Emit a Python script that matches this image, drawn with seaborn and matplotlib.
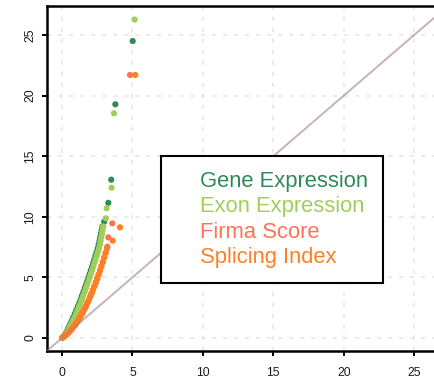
import matplotlib
matplotlib.use("Agg")
import matplotlib.pyplot as plt
from matplotlib.lines import Line2D
import numpy as np
import pandas as pd
import seaborn as sns

# Observed vs expected -log10(p) for four kinds of test
series_names = ["Gene Expression", "Exon Expression", "Firma Score", "Splicing Index"]
series_colors = ["#2E8B57", "#A2CD5A", "#FF7256", "#FF7F24"]

gene_x = [0.04, 0.12, 0.22, 0.30, 0.37, 0.45, 0.53, 0.61, 0.71, 0.80, 0.91, 1.02,
          1.12, 1.23, 1.33, 1.42, 1.52, 1.61, 1.70, 1.79, 1.88, 1.97, 2.05, 2.14,
          2.22, 2.30, 2.38, 2.46, 2.54, 2.60, 2.66, 2.71, 2.76, 2.81, 2.87, 3.00,
          3.29, 3.50, 3.79, 5.02]
gene_y = [0.05, 0.15, 0.30, 0.45, 0.60, 0.80, 1.00, 1.20, 1.45, 1.70, 2.00, 2.30,
          2.60, 2.90, 3.20, 3.50, 3.80, 4.10, 4.40, 4.70, 5.00, 5.30, 5.60, 5.90,
          6.20, 6.50, 6.80, 7.10, 7.40, 7.70, 8.00, 8.30, 8.60, 8.90, 9.20, 9.60,
          11.15, 13.06, 19.28, 24.50]

exon_x = [0.05, 0.14, 0.25, 0.34, 0.42, 0.51, 0.60, 0.69, 0.79, 0.89, 1.00, 1.11,
          1.21, 1.32, 1.42, 1.51, 1.61, 1.70, 1.79, 1.88, 1.97, 2.06, 2.14, 2.23,
          2.31, 2.39, 2.47, 2.55, 2.63, 2.69, 2.74, 2.79, 2.84, 2.88, 2.93, 3.12,
          3.17, 3.52, 3.69, 5.16]
exon_y = [0.05, 0.15, 0.30, 0.45, 0.60, 0.80, 1.00, 1.20, 1.45, 1.70, 2.00, 2.30,
          2.60, 2.90, 3.20, 3.50, 3.80, 4.10, 4.40, 4.70, 5.00, 5.30, 5.60, 5.90,
          6.20, 6.50, 6.80, 7.10, 7.40, 7.70, 8.00, 8.30, 8.60, 8.90, 9.20, 9.87,
          10.70, 12.40, 18.54, 26.27]

firma_x = [0.02, 0.10, 0.20, 0.30, 0.40, 0.50, 0.60, 0.70, 0.80, 0.90, 1.00, 1.10,
           1.20, 1.30, 1.40, 1.50, 1.60, 1.70, 1.80, 1.90, 2.00, 2.10, 2.20, 2.30,
           2.40, 2.50, 2.60, 2.70, 2.80, 2.90, 3.00, 3.10, 3.22, 3.29, 3.57, 4.83]
firma_y = [0.02, 0.08, 0.17, 0.27, 0.38, 0.50, 0.62, 0.76, 0.90, 1.05, 1.20, 1.37,
           1.55, 1.75, 1.95, 2.17, 2.40, 2.63, 2.88, 3.13, 3.40, 3.68, 3.97, 4.27,
           4.58, 4.90, 5.23, 5.57, 5.92, 6.28, 6.65, 7.03, 7.53, 8.30, 9.46, 21.70]

splice_x = [0.02, 0.10, 0.20, 0.30, 0.40, 0.50, 0.60, 0.70, 0.80, 0.90, 1.00, 1.10,
            1.20, 1.30, 1.40, 1.50, 1.60, 1.70, 1.80, 1.90, 2.00, 2.10, 2.20, 2.30,
            2.40, 2.50, 2.60, 2.70, 2.80, 2.90, 3.00, 3.10, 3.20, 3.60, 4.12, 5.20]
splice_y = [0.02, 0.08, 0.17, 0.27, 0.38, 0.50, 0.62, 0.76, 0.90, 1.05, 1.20, 1.37,
            1.55, 1.75, 1.95, 2.17, 2.40, 2.63, 2.88, 3.13, 3.40, 3.68, 3.97, 4.27,
            4.58, 4.90, 5.23, 5.57, 5.92, 6.28, 6.65, 7.03, 7.40, 8.03, 9.13, 21.70]

axis_ticks = [0, 5, 10, 15, 20, 25]

frames = []
for name, xs, ys in zip(series_names,
                        [gene_x, exon_x, firma_x, splice_x],
                        [gene_y, exon_y, firma_y, splice_y]):
    frames.append(pd.DataFrame({"expected": xs, "observed": ys, "test": name}))
df = pd.concat(frames, ignore_index=True)

sns.set_style("white")
plt.rcParams["font.family"] = ["Liberation Sans", "DejaVu Sans"]

W, H = 435, 383
fig = plt.figure(figsize=(W / 100, H / 100), dpi=100)
ax = fig.add_axes([47.3 / W, 32.3 / H, (440 - 47.3) / W, (350.7 - 6) / H])

sns.scatterplot(data=df, x="expected", y="observed", hue="test",
                hue_order=series_names, palette=series_colors,
                s=20, linewidth=0, legend=False, ax=ax, zorder=3)

# reference line y = x
ax.axline((0, 0), slope=1, color="#A08080", alpha=0.6, lw=1.4, zorder=4)

ax.set_xlim(-1.04, 26.83)
ax.set_ylim(-1.048, 27.39)
ax.set_xticks(axis_ticks)
ax.set_yticks(axis_ticks)
ax.set_xlabel("")
ax.set_ylabel("")

ax.grid(True, color="#E6E6E6", lw=1.1, linestyle=(0, (2.8, 4.4)), zorder=0)
ax.set_axisbelow(True)

for side in ["left", "bottom", "top"]:
    ax.spines[side].set_visible(True)
    ax.spines[side].set_color("black")
    ax.spines[side].set_linewidth(1.8)
ax.spines["right"].set_visible(False)

ax.tick_params(axis="both", direction="out", length=3.6, width=1.4,
               color="black", labelsize=8.8, labelcolor="#1a1a1a")
ax.tick_params(axis="x", pad=8.0, bottom=True)
ax.tick_params(axis="y", pad=4.5, left=True, labelrotation=90)
for lab in ax.get_yticklabels():
    lab.set_va("center")

handles = [Line2D([], [], linestyle="none") for _ in series_names]
leg = ax.legend(handles, series_names, labelcolor=series_colors,
                loc="upper left", bbox_to_anchor=(161 / W, 1 - 156 / H),
                bbox_transform=fig.transFigure, borderaxespad=0,
                prop={"family": "Liberation Sans", "size": 15.8},
                handlelength=0.9, handletextpad=0.19, borderpad=0.68,
                labelspacing=0.2, fancybox=False, framealpha=1,
                edgecolor="black", facecolor="white")
leg.get_frame().set_linewidth(1.5)
leg.set_zorder(10)

fig.savefig("out.png", dpi=100)
